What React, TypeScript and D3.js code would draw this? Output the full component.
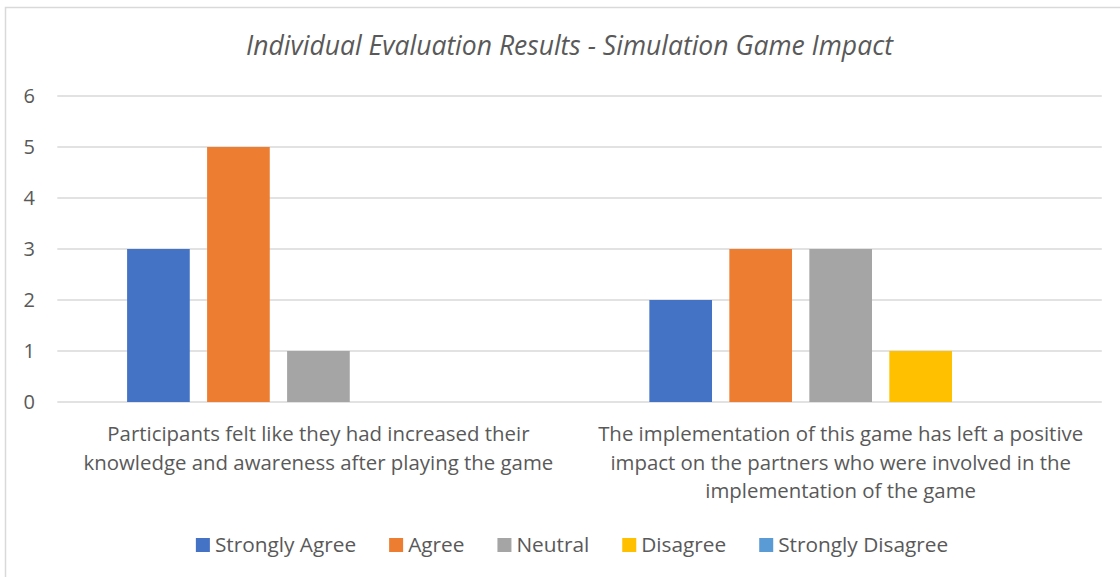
import React, { useEffect, useRef } from "react";
import * as d3 from "d3";

const title = "Individual Evaluation Results - Simulation Game Impact";
const categories = [
  "Participants felt like they had increased their knowledge and awareness after playing the game",
  "The implementation of this game has left a positive impact on the partners who were involved in the implementation of the game",
];
const categoryLines = [
  ["Participants felt like they had increased their", "knowledge and awareness after playing the game"],
  ["The implementation of this game has left a positive", "impact on the partners who were involved in the", "implementation of the game"],
];
const seriesNames = ["Strongly Agree", "Agree", "Neutral", "Disagree", "Strongly Disagree"];
const seriesColors = ["#4472C4", "#ED7D31", "#A5A5A5", "#FFC000", "#5B9BD5"];
const stronglyAgree = [3, 2];
const agree = [5, 3];
const neutral = [1, 3];
const disagree = [0, 1];
const stronglyDisagree = [0, 0];
const seriesValues = [stronglyAgree, agree, neutral, disagree, stronglyDisagree];
const yTicks = [0, 1, 2, 3, 4, 5, 6];

const W = 1120;
const H = 577;
const FONT = "'Open Sans', sans-serif";
const TEXT = "#595959";

export default function App() {
  const ref = useRef<SVGSVGElement>(null);
  useEffect(() => {
    const svg = d3.select(ref.current);
    svg.selectAll("*").remove();

    svg.append("rect").attr("x", 5.5).attr("y", 7.5).attr("width", 1200).attr("height", 700)
      .attr("fill", "white").attr("stroke", "#d9d9d9").attr("stroke-width", 1.5);

    const left = 57.3, right = 1101.8, top = 96, bottom = 402;
    const x0 = d3.scaleBand<string>().domain(categories).range([left, right]).paddingInner(0).paddingOuter(0);
    const bw = x0.bandwidth();
    const gapHalf = 69.8;
    const x1 = d3.scaleBand<string>().domain(seriesNames).range([gapHalf, bw - gapHalf]).paddingInner(0.2167).paddingOuter(0);
    const y = d3.scaleLinear().domain([0, 6]).range([bottom, top]);

    svg.append("text").attr("x", 569.5).attr("y", 46).attr("dy", "0.35em").attr("text-anchor", "middle")
      .attr("font-family", FONT).attr("font-style", "italic").attr("font-size", 26.5).attr("fill", TEXT).text(title);

    const grid = svg.append("g");
    yTicks.forEach((t) => {
      grid.append("line").attr("x1", left).attr("x2", right).attr("y1", y(t)).attr("y2", y(t))
        .attr("stroke", "#d9d9d9").attr("stroke-width", 1.5);
      svg.append("text").attr("x", 35).attr("y", y(t)).attr("dy", "0.35em").attr("text-anchor", "end")
        .attr("font-family", FONT).attr("font-size", 20).attr("fill", TEXT).text(String(t));
    });

    seriesNames.forEach((s, si) => {
      categories.forEach((c, ci) => {
        const v = seriesValues[si][ci];
        if (v <= 0) return;
        svg.append("rect").attr("x", (x0(c) as number) + (x1(s) as number)).attr("y", y(v))
          .attr("width", x1.bandwidth()).attr("height", y(0) - y(v)).attr("fill", seriesColors[si]);
      });
    });

    categoryLines.forEach((lines, ci) => {
      const cx = (x0(categories[ci]) as number) + bw / 2;
      lines.forEach((ln, li) => {
        svg.append("text").attr("x", cx).attr("y", 434 + li * 28.5).attr("dy", "0.35em").attr("text-anchor", "middle")
          .attr("font-family", FONT).attr("font-size", 20.4).attr("fill", TEXT).text(ln);
      });
    });

    const lg = svg.append("g");
    const items: { g: any; w: number }[] = [];
    seriesNames.forEach((s, si) => {
      const g = lg.append("g");
      g.append("rect").attr("x", 0).attr("y", -7).attr("width", 14).attr("height", 14).attr("fill", seriesColors[si]);
      const t = g.append("text").attr("x", 19).attr("y", 0).attr("dy", "0.35em")
        .attr("font-family", FONT).attr("font-size", 20.8).attr("fill", TEXT).text(s);
      const tw = (t.node() as SVGTextElement).getComputedTextLength();
      items.push({ g, w: 19 + tw });
    });
    const gap = 33;
    const total = d3.sum(items, (d) => d.w) + gap * (items.length - 1);
    let cx = 572 - total / 2;
    items.forEach((it) => {
      it.g.attr("transform", `translate(${cx},545)`);
      cx += it.w + gap;
    });
  }, []);
  return <svg ref={ref} width={W} height={H} style={{ display: "block", position: "absolute", left: 0, top: 0 }} />;
}
